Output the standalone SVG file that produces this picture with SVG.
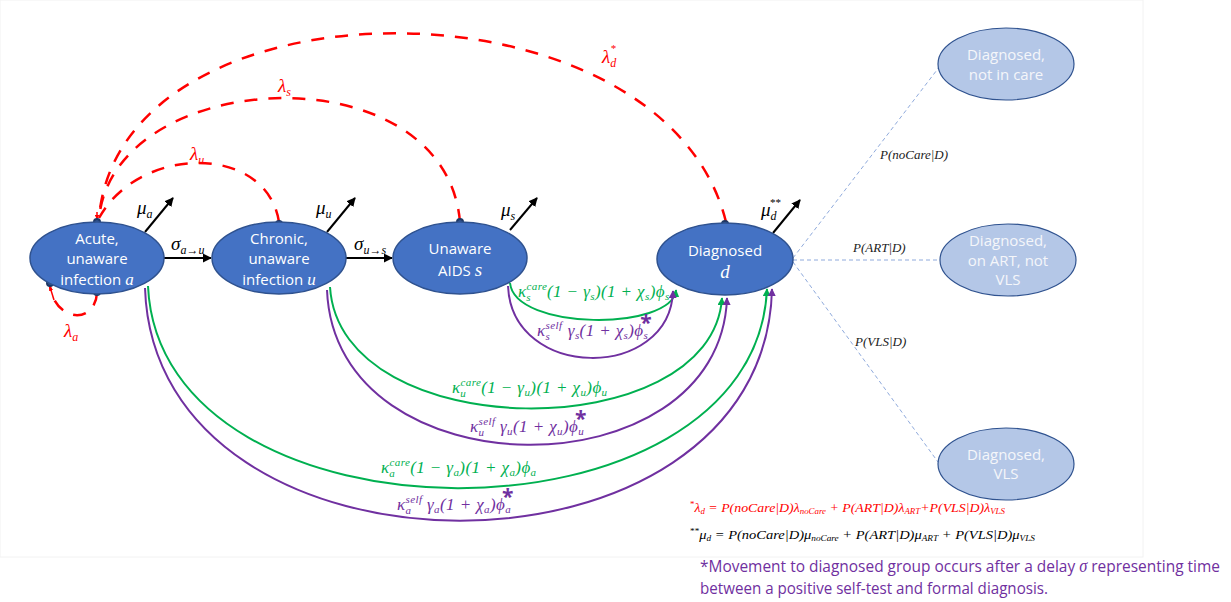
<svg xmlns="http://www.w3.org/2000/svg" width="1231" height="602" viewBox="0 0 1231 602">
<defs>
<marker id="ak" viewBox="0 0 10 10" refX="9" refY="5" markerWidth="4.5" markerHeight="4.5" orient="auto"><path d="M0,0 L10,5 L0,10 z" fill="#000"/></marker>
<marker id="ag" viewBox="0 0 10 10" refX="9" refY="5" markerWidth="4" markerHeight="4" orient="auto"><path d="M0,0 L10,5 L0,10 z" fill="#00B050"/></marker>
<marker id="ap" viewBox="0 0 10 10" refX="9" refY="5" markerWidth="4" markerHeight="4" orient="auto"><path d="M0,0 L10,5 L0,10 z" fill="#7030A0"/></marker>
<marker id="ar" viewBox="0 0 10 10" refX="9" refY="5" markerWidth="3" markerHeight="3" orient="auto"><path d="M0,0 L10,5 L0,10 z" fill="#FF0000"/></marker>
</defs>
<style>
.node ellipse{fill:#4472C4;stroke:#2F528F;stroke-width:1.5}
.lnode ellipse{fill:#B4C7E7;stroke:#2F528F;stroke-width:1.2}
.nt{font-family:"Open Sans",sans-serif;font-size:15px;fill:#fff;text-anchor:middle}
.lt{font-family:"Open Sans",sans-serif;font-size:15px;fill:#F4F6FA;text-anchor:middle}
.m{font-family:"Liberation Serif",serif;font-style:italic}
.lab{font-family:"Liberation Serif",serif;font-style:italic;font-size:19px}
.red{fill:#FF0000}
.grn{fill:#00B050}
.pur{fill:#7030A0}
.blk{fill:#000}
.dashred{fill:none;stroke:#FF0000;stroke-width:2.5;stroke-dasharray:13 11}
.mu{stroke:#000;stroke-width:2;fill:none;marker-end:url(#ak)}
.g{fill:none;stroke:#00B050;stroke-width:2;marker-end:url(#ag)}
.p{fill:none;stroke:#7030A0;stroke-width:2;marker-end:url(#ap)}
.bl{fill:none;stroke:#8FAADC;stroke-width:1;stroke-dasharray:4 3}
.dot{fill:#2F528F;stroke:#1F3864;stroke-width:2}
.form{font-family:"Liberation Serif",serif;font-style:italic;font-size:17px;letter-spacing:0.4px}
.sb{font-size:11px}
.ast{font-family:"Open Sans",sans-serif;font-style:normal;font-size:21px;font-weight:bold}
.pl{font-family:"Liberation Serif",serif;font-style:italic;font-size:13px;fill:#222}
.bf{font-family:"Liberation Serif",serif;font-style:italic;font-size:12.5px}
.note{font-family:"Open Sans",sans-serif;font-size:17px;fill:#7030A0}
</style>
<rect x="0" y="0" width="1143" height="557" fill="#fff" stroke="#F2F2F2" stroke-width="1"/>

<g id="connectors">
  <path class="dashred" d="M726,222 C664,-29 120,-29 99,218"/>
  <path class="dashred" d="M460,222 C445,50 115,65 99,218"/>
  <path class="dashred" d="M279,222 C267,144 140,144 99,218"/>
  <path class="dashred" d="M97,293 C95,325 55,322 50,286"/>
  <path d="M97,212 L97,219" stroke="#FF0000" stroke-width="1.5" marker-end="url(#ar)"/>
  <path d="M54,300 L50,287" stroke="#FF0000" stroke-width="1.5" marker-end="url(#ar)"/>
  <line x1="164" y1="258" x2="211" y2="258" class="mu"/>
  <line x1="346" y1="258" x2="392" y2="258" class="mu"/>
  <line x1="145" y1="232" x2="173" y2="198" class="mu"/>
  <line x1="327" y1="232" x2="355" y2="198" class="mu"/>
  <line x1="510" y1="230" x2="537" y2="198" class="mu"/>
  <line x1="773" y1="233" x2="800" y2="200" class="mu"/>
  <path class="g" d="M510,283 C515,331 672,331 676,290"/>
  <path class="p" d="M508,286 C512,381 670,381 673,291"/>
  <path class="g" d="M330,287 C340,447 712,447 722,298"/>
  <path class="p" d="M327,290 C335,495 720,495 727,298"/>
  <path class="g" d="M148,286 C160,555 755,555 767,289"/>
  <path class="p" d="M145,288 C155,598 765,598 772,289"/>
  <line class="bl" x1="793" y1="258" x2="940" y2="66"/>
  <line class="bl" x1="793" y1="260" x2="940" y2="260"/>
  <line class="bl" x1="793" y1="262" x2="938" y2="462"/>
  <circle class="dot" cx="97" cy="222" r="3"/>
  <circle class="dot" cx="97" cy="292" r="3"/>
  <circle class="dot" cx="50" cy="283" r="3"/>
  <circle class="dot" cx="279" cy="224" r="3"/>
  <circle class="dot" cx="460" cy="222" r="3"/>
  <circle class="dot" cx="725" cy="224" r="3"/>
</g>

<g id="node-acute" class="node">
  <ellipse cx="97" cy="258" rx="67" ry="36"/>
  <text class="nt" x="97" y="244">Acute,</text>
  <text class="nt" x="97" y="264">unaware</text>
  <text class="nt" x="97" y="285">infection <tspan class="m" font-size="17">a</tspan></text>
</g>
<g id="node-chronic" class="node">
  <ellipse cx="279" cy="258" rx="67" ry="36"/>
  <text class="nt" x="279" y="244">Chronic,</text>
  <text class="nt" x="279" y="264">unaware</text>
  <text class="nt" x="279" y="285">infection <tspan class="m" font-size="17">u</tspan></text>
</g>
<g id="node-aids" class="node">
  <ellipse cx="460" cy="258" rx="67" ry="36"/>
  <text class="nt" x="460" y="254" font-size="17">Unaware</text>
  <text class="nt" x="460" y="276" font-size="17">AIDS <tspan class="m" font-size="19">s</tspan></text>
</g>
<g id="node-diagnosed" class="node">
  <ellipse cx="725" cy="259" rx="68" ry="36"/>
  <text class="nt" x="725" y="256" font-size="17">Diagnosed</text>
  <text class="nt" x="725" y="278"><tspan class="m" font-size="19">d</tspan></text>
</g>
<g id="node-notcare" class="lnode">
  <ellipse cx="1006" cy="64" rx="68" ry="36"/>
  <text class="lt" x="1006" y="60">Diagnosed,</text>
  <text class="lt" x="1006" y="80">not in care</text>
</g>
<g id="node-art" class="lnode">
  <ellipse cx="1008" cy="260" rx="68" ry="36"/>
  <text class="lt" x="1008" y="246">Diagnosed,</text>
  <text class="lt" x="1008" y="266">on ART, not</text>
  <text class="lt" x="1008" y="285">VLS</text>
</g>
<g id="node-vls" class="lnode">
  <ellipse cx="1006" cy="464" rx="68" ry="36"/>
  <text class="lt" x="1006" y="460">Diagnosed,</text>
  <text class="lt" x="1006" y="479">VLS</text>
</g>

<g id="labels">
  <text class="lab blk" x="137" y="214">μ<tspan font-size="12" dy="4">a</tspan></text>
  <text class="lab blk" x="316" y="214">μ<tspan font-size="12" dy="4">u</tspan></text>
  <text class="lab blk" x="501" y="216">μ<tspan font-size="12" dy="4">s</tspan></text>
  <text class="lab blk" x="761" y="216">μ<tspan font-size="12" dy="4">d</tspan><tspan font-size="11" dx="-7" dy="-14">**</tspan></text>
  <text class="lab blk" x="171" y="250">σ<tspan font-size="12" dy="4">a→u</tspan></text>
  <text class="lab blk" x="354" y="250">σ<tspan font-size="12" dy="4">u→s</tspan></text>
  <text class="lab red" x="64" y="337">λ<tspan font-size="12" dy="4">a</tspan></text>
  <text class="lab red" x="190" y="160">λ<tspan font-size="12" dy="4">u</tspan></text>
  <text class="lab red" x="278" y="92">λ<tspan font-size="12" dy="4">s</tspan></text>
  <text class="lab red" x="602" y="63">λ<tspan font-size="12" dy="4">d</tspan><tspan font-size="11" dx="-6" dy="-15">*</tspan></text>

  <text class="form grn" x="518" y="297">κ<tspan class="sb" dy="-7">care</tspan><tspan class="sb" dx="-21" dy="11">s</tspan><tspan dx="16" dy="-4">(1 − γ</tspan><tspan class="sb" dy="3">s</tspan><tspan dy="-3">)(1 + χ</tspan><tspan class="sb" dy="3">s</tspan><tspan dy="-3">)ϕ</tspan><tspan class="sb" dy="3">s</tspan></text>
  <text class="form pur" x="537" y="336">κ<tspan class="sb" dy="-7">self</tspan><tspan class="sb" dx="-17" dy="11">s</tspan><tspan dx="13" dy="-4"> γ</tspan><tspan class="sb" dy="3">s</tspan><tspan dy="-3">(1 + χ</tspan><tspan class="sb" dy="3">s</tspan><tspan dy="-3">)ϕ</tspan><tspan class="sb" dy="3">s</tspan><tspan class="ast" dx="-8" dy="-9">*</tspan></text>

  <text class="form grn" x="452" y="393">κ<tspan class="sb" dy="-7">care</tspan><tspan class="sb" dx="-21" dy="11">u</tspan><tspan dx="15" dy="-4">(1 − γ</tspan><tspan class="sb" dy="3">u</tspan><tspan dy="-3">)(1 + χ</tspan><tspan class="sb" dy="3">u</tspan><tspan dy="-3">)ϕ</tspan><tspan class="sb" dy="3">u</tspan></text>
  <text class="form pur" x="470" y="432">κ<tspan class="sb" dy="-7">self</tspan><tspan class="sb" dx="-17" dy="11">u</tspan><tspan dx="11" dy="-4"> γ</tspan><tspan class="sb" dy="3">u</tspan><tspan dy="-3">(1 + χ</tspan><tspan class="sb" dy="3">u</tspan><tspan dy="-3">)ϕ</tspan><tspan class="sb" dy="3">u</tspan><tspan class="ast" dx="-9" dy="-9">*</tspan></text>

  <text class="form grn" x="381" y="473">κ<tspan class="sb" dy="-7">care</tspan><tspan class="sb" dx="-21" dy="11">a</tspan><tspan dx="15" dy="-4">(1 − γ</tspan><tspan class="sb" dy="3">a</tspan><tspan dy="-3">)(1 + χ</tspan><tspan class="sb" dy="3">a</tspan><tspan dy="-3">)ϕ</tspan><tspan class="sb" dy="3">a</tspan></text>
  <text class="form pur" x="397" y="510">κ<tspan class="sb" dy="-7">self</tspan><tspan class="sb" dx="-17" dy="11">a</tspan><tspan dx="11" dy="-4"> γ</tspan><tspan class="sb" dy="3">a</tspan><tspan dy="-3">(1 + χ</tspan><tspan class="sb" dy="3">a</tspan><tspan dy="-3">)ϕ</tspan><tspan class="sb" dy="3">a</tspan><tspan class="ast" dx="-9" dy="-9">*</tspan></text>

  <text class="pl" x="880" y="159">P(noCare|D)</text>
  <text class="pl" x="853" y="252">P(ART|D)</text>
  <text class="pl" x="855" y="346">P(VLS|D)</text>

  <text class="bf red" x="690" y="512" textLength="315" lengthAdjust="spacingAndGlyphs"><tspan font-size="8" dy="-5" font-style="normal">*</tspan><tspan dy="5">λ</tspan><tspan font-size="8" dy="2">d</tspan><tspan dy="-2"> = P(noCare|D)λ</tspan><tspan font-size="8" dy="2">noCare</tspan><tspan dy="-2"> + P(ART|D)λ</tspan><tspan font-size="8" dy="2">ART</tspan><tspan dy="-2">+P(VLS|D)λ</tspan><tspan font-size="8" dy="2">VLS</tspan></text>
  <text class="bf blk" x="690" y="539" textLength="345" lengthAdjust="spacingAndGlyphs"><tspan font-size="8" dy="-5" font-style="normal">**</tspan><tspan dy="5">μ</tspan><tspan font-size="8" dy="2">d</tspan><tspan dy="-2"> = P(noCare|D)μ</tspan><tspan font-size="8" dy="2">noCare</tspan><tspan dy="-2"> + P(ART|D)μ</tspan><tspan font-size="8" dy="2">ART</tspan><tspan dy="-2"> + P(VLS|D)μ</tspan><tspan font-size="8" dy="2">VLS</tspan></text>

  <text class="note" x="700" y="572" textLength="520" lengthAdjust="spacingAndGlyphs">*Movement to diagnosed group occurs after a delay <tspan class="m" font-size="18">σ</tspan> representing time</text>
  <text class="note" x="700" y="594" textLength="348" lengthAdjust="spacingAndGlyphs">between a positive self-test and formal diagnosis.</text>
</g>
</svg>
